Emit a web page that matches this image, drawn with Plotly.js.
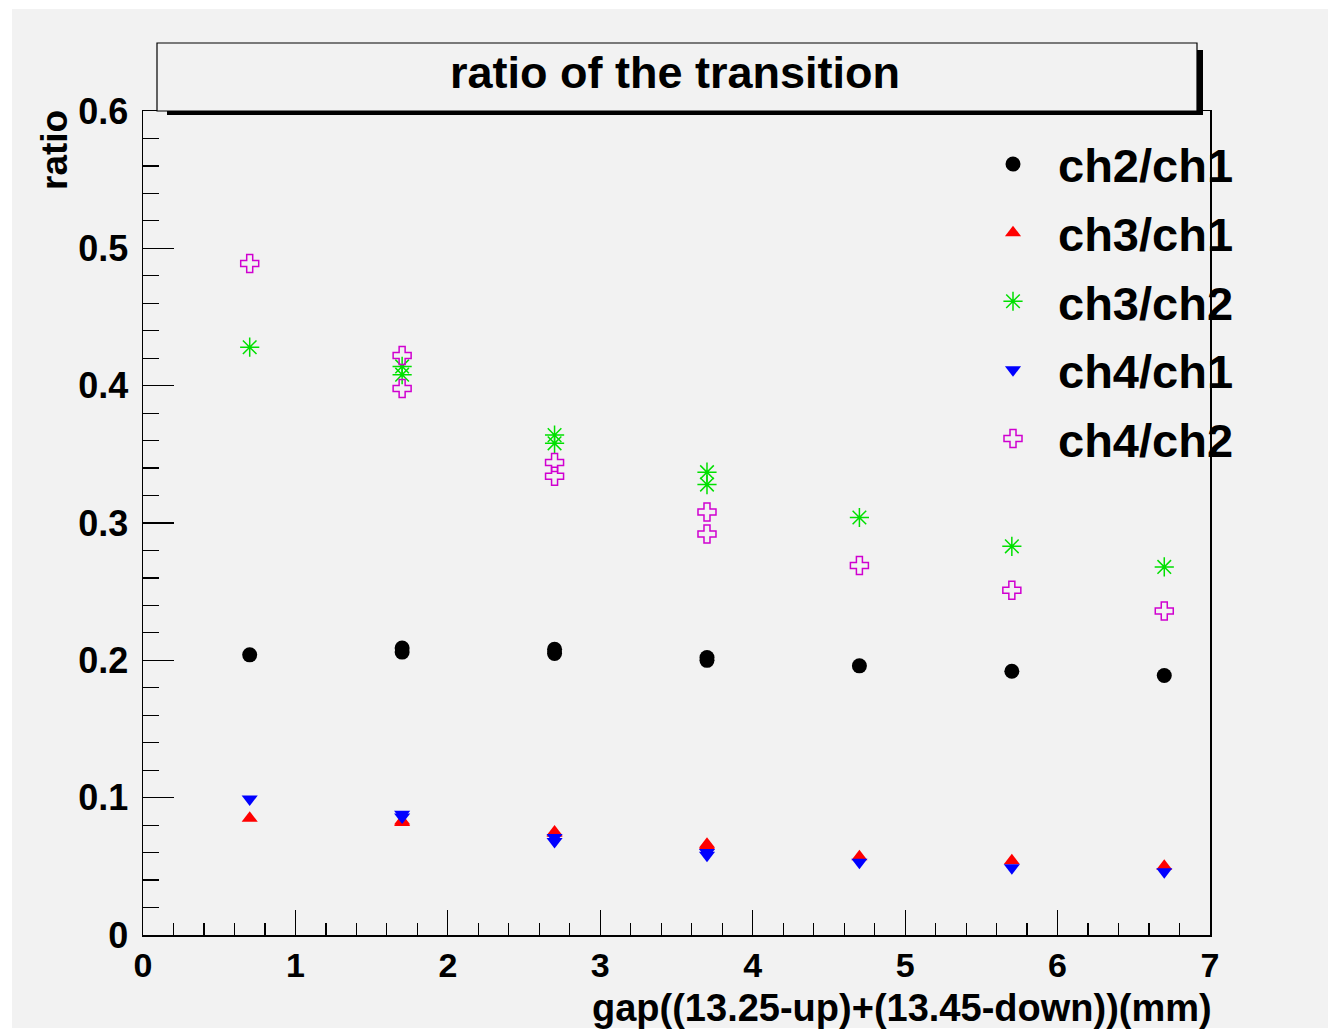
<!DOCTYPE html>
<html>
<head>
<meta charset="utf-8">
<script src="https://cdn.plot.ly/plotly-3.0.1.min.js"></script>
<style>html,body{margin:0;padding:0;background:#fff;}#chart{width:1328px;height:1036px;}</style>
</head>
<body>
<div id="chart"></div>
<script>
// ---- data ----
const gap = [0.7, 1.7, 1.7, 2.7, 2.7, 3.7, 3.7, 4.7, 5.7, 6.7];
const ch2_ch1 = [0.204, 0.209, 0.206, 0.208, 0.205, 0.202, 0.200, 0.196, 0.192, 0.189];
const ch3_ch1 = [0.085, 0.082, 0.083, 0.075, 0.074, 0.066, 0.065, 0.057, 0.054, 0.050];
const ch3_ch2 = [0.428, 0.414, 0.408, 0.364, 0.358, 0.337, 0.328, 0.304, 0.283, 0.268];
const ch4_ch1 = [0.099, 0.088, 0.086, 0.071, 0.068, 0.060, 0.058, 0.053, 0.049, 0.046];
const ch4_ch2 = [0.489, 0.422, 0.398, 0.344, 0.334, 0.308, 0.292, 0.269, 0.251, 0.236];
const seriesNames = ["ch2/ch1", "ch3/ch1", "ch3/ch2", "ch4/ch1", "ch4/ch2"];
const xTickVals = [0, 1, 2, 3, 4, 5, 6, 7];
const yTickVals = [0, 0.1, 0.2, 0.3, 0.4, 0.5, 0.6];
const yTickText = ["0", "0.1", "0.2", "0.3", "0.4", "0.5", "0.6"];
const titleText = "ratio of the transition";
const xTitle = "gap((13.25-up)+(13.45-down))(mm)";
const yTitle = "ratio";

const FONT = "Liberation Sans, Arial, Helvetica, sans-serif";

function tr(y, name, symbol, color, size, lw, lcolor) {
  return {
    x: gap, y: y, name: name, type: "scatter", mode: "markers",
    legendgroup: name,
    marker: {symbol: symbol, color: color, size: size,
             line: {width: lw, color: lcolor || color}}
  };
}

const data = [
  tr(ch2_ch1, seriesNames[0], "circle", "#000000", 15, 0),
  tr(ch3_ch1, seriesNames[1], "triangle-up", "#ff0000", 14, 0),
  tr(ch3_ch2, seriesNames[2], "asterisk-open", "#00e000", 16, 1.5, "#00e000"),
  tr(ch4_ch1, seriesNames[3], "triangle-down", "#0000ff", 14, 0),
  tr(ch4_ch2, seriesNames[4], "cross-open", "#d000d0", 15, 1.5, "#c000c0")
];

const px = v => (v - 143) / 1067;   // helper for paper coords (layout only)
const py = v => (935 - v) / 824;

const layout = {
  width: 1328, height: 1036,
  margin: {l: 143, r: 118, t: 111, b: 101, pad: 0},
  paper_bgcolor: "#ffffff",
  plot_bgcolor: "rgba(0,0,0,0)",
  showlegend: true,
  font: {family: FONT, color: "#000"},
  xaxis: {
    range: [0, 7], tickvals: xTickVals, ticktext: xTickVals.map(String),
    ticks: "inside", ticklen: 25, tickwidth: 1.2, tickcolor: "#000",
    minor: {dtick: 0.2, ticks: "inside", ticklen: 12, tickwidth: 1.2, tickcolor: "#000", showgrid: false},
    showline: true, linecolor: "#000", linewidth: 1.5, mirror: true,
    showgrid: false, zeroline: false,
    tickfont: {family: FONT, size: 34, weight: "bold", color: "#000"},
    ticklabelstandoff: 0
  },
  yaxis: {
    range: [0, 0.6], tickvals: yTickVals, ticktext: yTickText,
    ticks: "inside", ticklen: 31, tickwidth: 1.2, tickcolor: "#000",
    minor: {dtick: 0.02, ticks: "inside", ticklen: 16, tickwidth: 1.2, tickcolor: "#000", showgrid: false},
    showline: true, linecolor: "#000", linewidth: 1.5, mirror: true,
    showgrid: false, zeroline: false,
    tickfont: {family: FONT, size: 36, weight: "bold", color: "#000"},
    ticklabelstandoff: 6
  },
  legend: {
    x: px(968), xanchor: "left", y: py(127), yanchor: "top",
    bgcolor: "rgba(0,0,0,0)", borderwidth: 0,
    font: {family: FONT, size: 47, weight: "bold", color: "#000"},
    itemwidth: 80, tracegroupgap: 4.5
  },
  shapes: [
    {type: "rect", xref: "paper", yref: "paper", layer: "below",
     x0: px(12), x1: px(1328), y0: py(1028), y1: py(9),
     fillcolor: "#f2f2f2", line: {width: 0}},
    {type: "rect", xref: "paper", yref: "paper", layer: "above",
     x0: px(167), x1: px(1203), y0: py(115), y1: py(50),
     fillcolor: "#000000", line: {width: 0}},
    {type: "rect", xref: "paper", yref: "paper", layer: "above",
     x0: px(157), x1: px(1197), y0: py(111), y1: py(43),
     fillcolor: "#f2f2f2", line: {width: 1.2, color: "#000"}}
  ],
  annotations: [
    {text: titleText, xref: "paper", yref: "paper", x: px(675), y: py(73),
     xanchor: "center", yanchor: "middle", showarrow: false,
     font: {family: FONT, size: 45, weight: "bold", color: "#000"}},
    {text: xTitle, xref: "paper", yref: "paper", x: px(1214), y: py(1008),
     xanchor: "right", yanchor: "middle", showarrow: false,
     font: {family: FONT, size: 38, weight: "bold", color: "#000"}},
    {text: yTitle, xref: "paper", yref: "paper", x: px(55), y: py(108),
     xanchor: "center", yanchor: "top", textangle: -90, showarrow: false,
     font: {family: FONT, size: 37, weight: "bold", color: "#000"}}
  ]
};

Plotly.newPlot("chart", data, layout, {displayModeBar: false, staticPlot: true});
</script>
</body>
</html>
